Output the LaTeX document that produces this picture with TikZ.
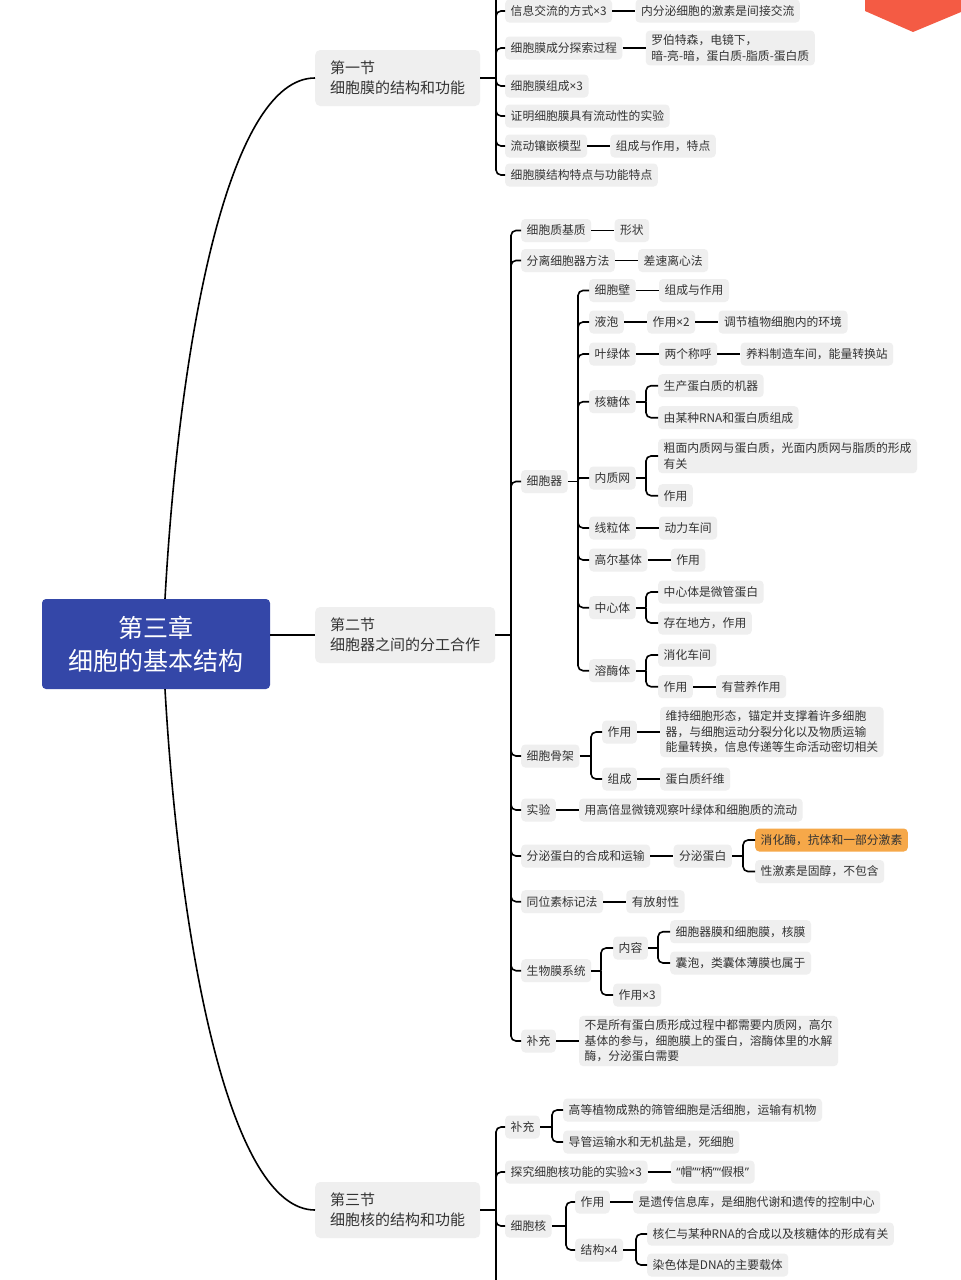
\documentclass[tikz,border=0pt]{standalone}
\usepackage{fontspec}
\newfontfamily\cjk{Noto Sans CJK SC}
\newfontfamily\mmlat{Noto Sans}
\usetikzlibrary{calc}
\definecolor{boxgray}{HTML}{EFEFEF}
\definecolor{rootblue}{HTML}{3447A8}
\definecolor{hlorange}{HTML}{F6A849}
\definecolor{cornerred}{HTML}{F45B44}
\definecolor{txt}{HTML}{333333}
\newcommand\mmx{{\mmlat ×}}
\newcommand\mmlq{{\mmlat “}}
\newcommand\mmrq{{\mmlat ”}}
\newcommand\mmfork[3]{%
  \draw[conn] (#1.east) -- (#2 |- #1.east);
  \foreach \mmc in {#3} {\draw[conn,rounded corners=5pt] (#2 |- #1.east) |- (\mmc.west);}
}
\begin{document}
\begin{tikzpicture}[x=1pt,y=-1pt,
  conn/.style={line width=1.6pt, black},
  leaf/.style={anchor=west, fill=boxgray, rounded corners=4pt, inner xsep=5.5pt, inner ysep=4pt,
    minimum height=23pt, font=\cjk\fontsize{11.8}{15.5}\selectfont, text=txt, align=left},
  sect/.style={anchor=west, fill=boxgray, rounded corners=5pt, inner xsep=15pt, inner ysep=6pt,
    minimum height=56pt, font=\cjk\fontsize{15}{20.5}\selectfont, text=txt, align=left},
  rootbox/.style={fill=rootblue, rounded corners=4pt, minimum width=228pt, minimum height=90pt,
    font=\cjk\fontsize{25}{33}\selectfont, text=white, align=center, inner sep=0pt},
  hl/.style={leaf, fill=hlorange}
]
\useasboundingbox (0,0) rectangle (961,1280);
\clip (0,0) rectangle (961,1280);
\fill[white] (0,0) rectangle (961,1280);
\fill[cornerred] (865,-2) -- (865,11) -- (913,32) -- (961,12) -- (961,-2) -- cycle;

% root
\node[rootbox] (root) at (156,644) {第三章\\细胞的基本结构};

% sections
\node[sect] (s1) at (315,78) {第一节\\细胞膜的结构和功能};
\node[sect] (s2) at (315,635) {第二节\\细胞器之间的分工合作};
\node[sect] (s3) at (315,1210) {第三节\\细胞核的结构和功能};

\draw[conn] ([xshift=9pt]root.north) .. controls (180,330) and (230,78) .. (s1.west);
\draw[conn] (root.east |- s2.west) -- (s2.west);
\draw[conn] ([xshift=9pt]root.south) .. controls (180,950) and (230,1210) .. (s3.west);

% ---------- section 1 ----------
\coordinate (bkS1) at (496,0);
\coordinate (s1up) at (496,-10);
\node[leaf] (a1) at (505,11) {信息交流的方式\mmx3};
\node[leaf] (a1r) at ([xshift=23pt]a1.east) {内分泌细胞的激素是间接交流};
\node[leaf] (a2) at (505,48) {细胞膜成分探索过程};
\node[leaf] (a2r) at ([xshift=23pt]a2.east) {罗伯特森，电镜下，\\暗-亮-暗，蛋白质-脂质-蛋白质};
\node[leaf] (a3) at (505,86) {细胞膜组成\mmx3};
\node[leaf] (a4) at (505,116) {证明细胞膜具有流动性的实验};
\node[leaf] (a5) at (505,146) {流动镶嵌模型};
\node[leaf] (a5r) at ([xshift=23pt]a5.east) {组成与作用，特点};
\node[leaf] (a6) at (505,175) {细胞膜结构特点与功能特点};
\mmfork{s1}{bkS1}{a1,a2,a3,a4,a5,a6}
\draw[conn] (bkS1 |- s1.east) -- (s1up);
\draw[conn] (a1) -- (a1r);
\draw[conn] (a2) -- (a2r);
\draw[conn] (a5) -- (a5r);

% ---------- section 2 ----------
\coordinate (bkS2) at (511,0);
\node[leaf] (b1) at (521,230.5) {细胞质基质};
\node[leaf] (b1r) at ([xshift=23pt]b1.east) {形状};
\node[leaf] (b2) at (521,260.5) {分离细胞器方法};
\node[leaf] (b2r) at ([xshift=23pt]b2.east) {差速离心法};
\node[leaf] (b3) at (521,481.5) {细胞器};
\node[leaf] (b4) at (521,756) {细胞骨架};
\node[leaf] (b5) at (521,810) {实验};
\node[leaf] (b5r) at ([xshift=23pt]b5.east) {用高倍显微镜观察叶绿体和细胞质的流动};
\node[leaf] (b6) at (521,856) {分泌蛋白的合成和运输};
\node[leaf] (f1) at ([xshift=23pt]b6.east) {分泌蛋白};
\node[leaf] (b7) at (521,901.7) {同位素标记法};
\node[leaf] (b7r) at ([xshift=23pt]b7.east) {有放射性};
\node[leaf] (b8) at (521,970.7) {生物膜系统};
\node[leaf] (b9) at (521,1041) {补充};
\node[leaf] (b9r) at ([xshift=23pt]b9.east) {不是所有蛋白质形成过程中都需要内质网，高尔\\基体的参与，细胞膜上的蛋白，溶酶体里的水解\\酶，分泌蛋白需要};
\mmfork{s2}{bkS2}{b1,b2,b3,b4,b5,b6,b7,b8,b9}
\draw[conn] (b1) -- (b1r);
\draw[conn] (b2) -- (b2r);
\draw[conn] (b5) -- (b5r);
\draw[conn] (b6) -- (f1);
\draw[conn] (b7) -- (b7r);
\draw[conn] (b9) -- (b9r);

% organelles
\coordinate (bkB3) at (578,0);
\coordinate (bkSub) at (646,0);
\node[leaf] (c1) at (589,290.5) {细胞壁};
\node[leaf] (c1r) at ([xshift=23pt]c1.east) {组成与作用};
\node[leaf] (c2) at (589,322) {液泡};
\node[leaf] (c2a) at ([xshift=23pt]c2.east) {作用\mmx2};
\node[leaf] (c2b) at ([xshift=23pt]c2a.east) {调节植物细胞内的环境};
\node[leaf] (c3) at (589,354) {叶绿体};
\node[leaf] (c3a) at ([xshift=23pt]c3.east) {两个称呼};
\node[leaf] (c3b) at ([xshift=23pt]c3a.east) {养料制造车间，能量转换站};
\node[leaf] (c4) at (589,401.7) {核糖体};
\node[leaf] (d41) at (658,385.7) {生产蛋白质的机器};
\node[leaf] (d42) at (658,417.7) {由某种RNA和蛋白质组成};
\node[leaf] (c5) at (589,478) {内质网};
\node[leaf] (d51) at (658,456) {粗面内质网与蛋白质，光面内质网与脂质的形成\\有关};
\node[leaf] (d52) at (658,495.7) {作用};
\node[leaf] (c6) at (589,528) {线粒体};
\node[leaf] (c6r) at ([xshift=23pt]c6.east) {动力车间};
\node[leaf] (c7) at (589,560) {高尔基体};
\node[leaf] (c7r) at ([xshift=23pt]c7.east) {作用};
\node[leaf] (c8) at (589,607.7) {中心体};
\node[leaf] (d81) at (658,592) {中心体是微管蛋白};
\node[leaf] (d82) at (658,623) {存在地方，作用};
\node[leaf] (c9) at (589,670.7) {溶酶体};
\node[leaf] (d91) at (658,655) {消化车间};
\node[leaf] (d92) at (658,686.7) {作用};
\node[leaf] (d92r) at ([xshift=23pt]d92.east) {有营养作用};
\draw[conn] (b3.east) -- (bkB3 |- b3.east);
\foreach \mmc in {c1,c2,c3,c4,c6,c7,c8,c9} {\draw[conn,rounded corners=5pt] (bkB3 |- b3.east) |- (\mmc.west);}
\draw[conn,rounded corners=1.5pt] (bkB3 |- b3.east) |- (c5.west);
\draw[conn] (c1) -- (c1r);
\draw[conn] (c2) -- (c2a);
\draw[conn] (c2a) -- (c2b);
\draw[conn] (c3) -- (c3a);
\draw[conn] (c3a) -- (c3b);
\mmfork{c4}{bkSub}{d41,d42}
\mmfork{c5}{bkSub}{d51,d52}
\draw[conn] (c6) -- (c6r);
\draw[conn] (c7) -- (c7r);
\mmfork{c8}{bkSub}{d81,d82}
\mmfork{c9}{bkSub}{d91,d92}
\draw[conn] (d92) -- (d92r);

% cytoskeleton
\coordinate (bkB4) at (591,0);
\node[leaf] (e1) at (602,732) {作用};
\node[leaf] (e1r) at ([xshift=23pt]e1.east) {维持细胞形态，锚定并支撑着许多细胞\\器，与细胞运动分裂分化以及物质运输\\能量转换，信息传递等生命活动密切相关};
\node[leaf] (e2) at (602,779) {组成};
\node[leaf] (e2r) at ([xshift=23pt]e2.east) {蛋白质纤维};
\mmfork{b4}{bkB4}{e1,e2}
\draw[conn] (e1) -- (e1r);
\draw[conn] (e2) -- (e2r);

% secretory protein
\coordinate (bkF1) at (743,0);
\node[hl] (f11) at (755,840) {消化酶，抗体和一部分激素};
\node[leaf] (f12) at (755,871.5) {性激素是固醇，不包含};
\mmfork{f1}{bkF1}{f11,f12}

% biomembrane system
\coordinate (bkB8) at (601,0);
\coordinate (bkG1) at (658,0);
\node[leaf] (g1) at (613,948) {内容};
\node[leaf] (g11) at (670,931.7) {细胞器膜和细胞膜，核膜};
\node[leaf] (g12) at (670,963) {囊泡，类囊体薄膜也属于};
\node[leaf] (g2) at (613,995) {作用\mmx3};
\mmfork{b8}{bkB8}{g1,g2}
\mmfork{g1}{bkG1}{g11,g12}

% ---------- section 3 ----------
\coordinate (bkS3) at (496,0);
\coordinate (s3down) at (496,1295);
\node[leaf] (h1) at (505,1127) {补充};
\node[leaf] (h11) at (563,1110) {高等植物成熟的筛管细胞是活细胞，运输有机物};
\node[leaf] (h12) at (563,1142) {导管运输水和无机盐是，死细胞};
\node[leaf] (h2) at (505,1172) {探究细胞核功能的实验\mmx3};
\node[leaf] (h2r) at ([xshift=23pt]h2.east) {\mmlq 帽\mmrq\mmlq 柄\mmrq\mmlq 假根\mmrq};
\node[leaf] (h3) at (505,1226) {细胞核};
\node[leaf] (h31) at (575,1202) {作用};
\node[leaf] (h31r) at ([xshift=23pt]h31.east) {是遗传信息库，是细胞代谢和遗传的控制中心};
\node[leaf] (h32) at (575,1250) {结构\mmx4};
\node[leaf] (h321) at (647,1234) {核仁与某种RNA的合成以及核糖体的形成有关};
\node[leaf] (h322) at (647,1265) {染色体是DNA的主要载体};
\mmfork{s3}{bkS3}{h1,h2,h3}
\draw[conn] (bkS3 |- s3.east) -- (s3down);
\coordinate (bkH1) at (552,0);
\coordinate (bkH3) at (566,0);
\coordinate (bkH32) at (636,0);
\mmfork{h1}{bkH1}{h11,h12}
\draw[conn] (h2) -- (h2r);
\mmfork{h3}{bkH3}{h31,h32}
\draw[conn] (h31) -- (h31r);
\mmfork{h32}{bkH32}{h321,h322}
\end{tikzpicture}
\end{document}
